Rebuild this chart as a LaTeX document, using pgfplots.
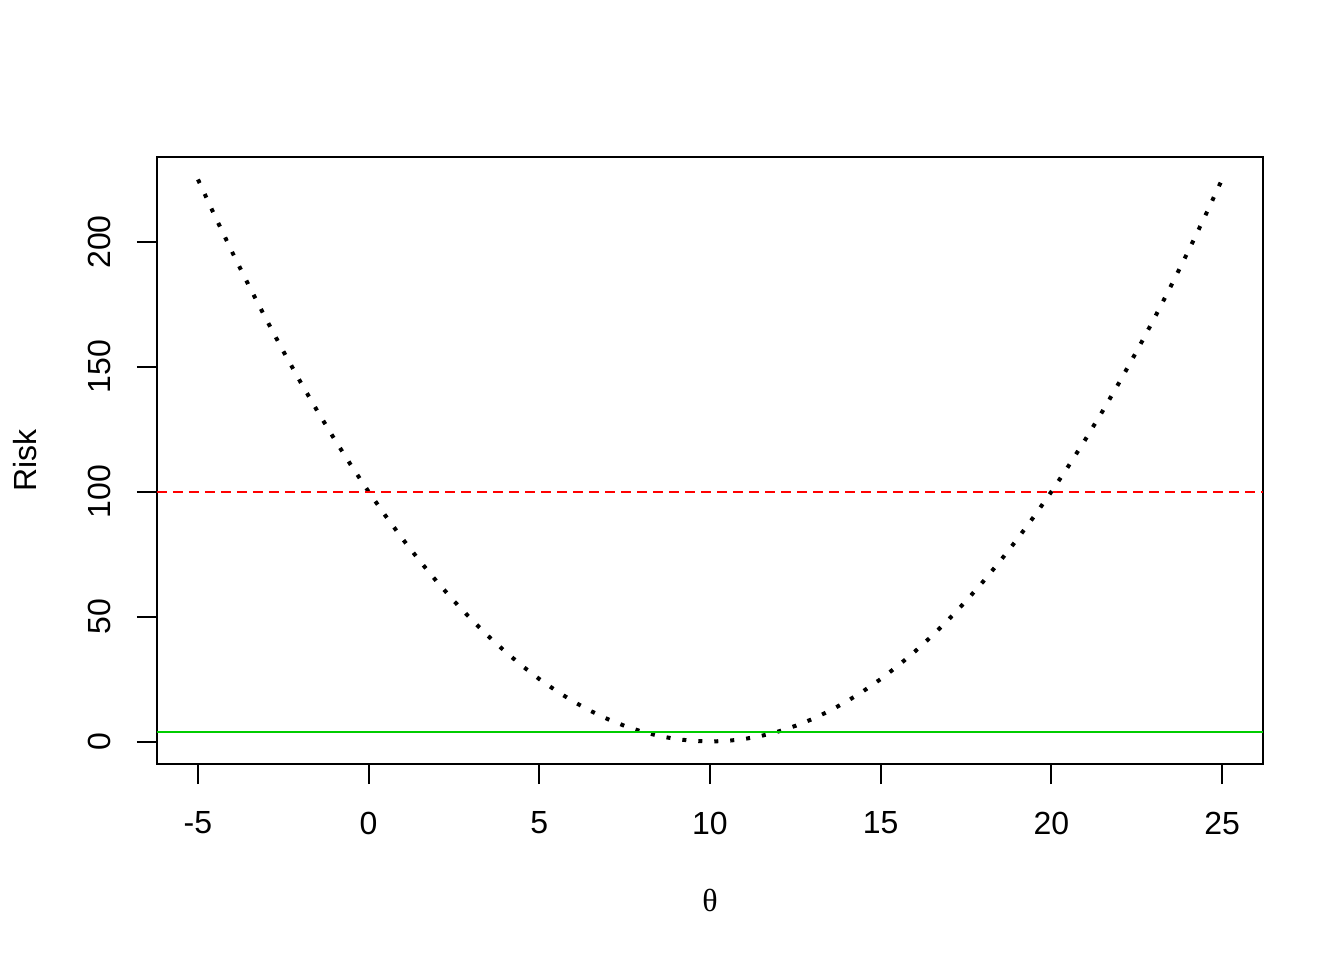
\documentclass[border=0pt]{standalone}
\usepackage{fontspec}
\setmainfont{Liberation Sans}
\newfontfamily\serifgr{Liberation Serif}
\usepackage{pgfplots}
\pgfplotsset{compat=1.18}
\definecolor{rgreen}{HTML}{00CD00}
\begin{document}
\begin{tikzpicture}
\path (-78.5pt,-98pt) rectangle (593.5pt,382pt);
\begin{axis}[
  at={(0,0)}, anchor=south west,
  scale only axis, width=553pt, height=303.5pt,
  xmin=-6.2, xmax=26.2, ymin=-9, ymax=234,
  axis line style={line width=1pt},
  tick align=outside, tick pos=left,
  major tick length=10pt,
  every tick/.style={black, line width=1pt},
  xtick={-5,0,5,10,15,20,25},
  xticklabels={-5,0,5,10,15,20,25},
  ytick={0,50,100,150,200},
  yticklabels={0,50,100,150,200},
  x tick label style={font=\fontsize{16pt}{19pt}\selectfont, anchor=center, yshift=-19.5pt},
  y tick label style={font=\fontsize{16pt}{19pt}\selectfont, rotate=90, anchor=center, yshift=19pt},
  clip=true,
]
\addplot[black, line width=2pt, dash pattern=on 2pt off 6pt] coordinates {
(-5,225) (-4.5,210.25) (-4,196) (-3.5,182.25) (-3,169) (-2.5,156.25) (-2,144) (-1.5,132.25) (-1,121) (-0.5,110.25)
(0,100) (0.5,90.25) (1,81) (1.5,72.25) (2,64) (2.5,56.25) (3,49) (3.5,42.25) (4,36) (4.5,30.25)
(5,25) (5.5,20.25) (6,16) (6.5,12.25) (7,9) (7.5,6.25) (8,4) (8.5,2.25) (9,1) (9.5,0.25)
(10,0) (10.5,0.25) (11,1) (11.5,2.25) (12,4) (12.5,6.25) (13,9) (13.5,12.25) (14,16) (14.5,20.25)
(15,25) (15.5,30.25) (16,36) (16.5,42.25) (17,49) (17.5,56.25) (18,64) (18.5,72.25) (19,81) (19.5,90.25)
(20,100) (20.5,110.25) (21,121) (21.5,132.25) (22,144) (22.5,156.25) (23,169) (23.5,182.25) (24,196) (24.5,210.25)
(25,225)};
\addplot[red, line width=1pt, dash pattern=on 5pt off 3pt] coordinates {(-6.2,100) (26.2,100)};
\addplot[rgreen, line width=1pt] coordinates {(-6.2,4) (26.2,4)};
\end{axis}
\node[rotate=90, font=\fontsize{16pt}{19pt}\selectfont] at (-66pt,151.75pt) {Risk};
\node[font=\fontsize{16pt}{19pt}\serifgr] at (276.5pt,-68pt) {θ};
\end{tikzpicture}
\end{document}
